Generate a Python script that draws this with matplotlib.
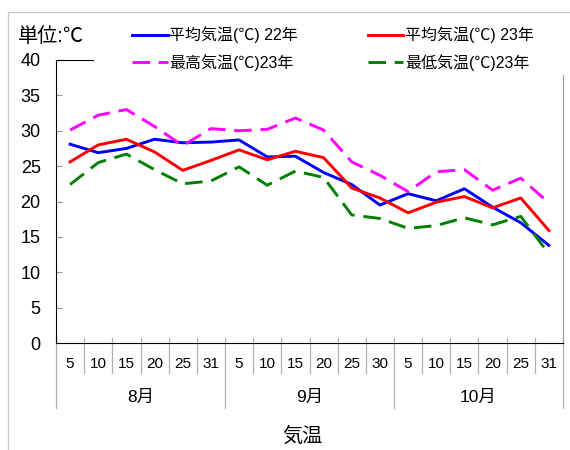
import matplotlib
matplotlib.use("Agg")
import matplotlib.pyplot as plt
from matplotlib.patches import Rectangle

plt.rcParams['font.family'] = ['Liberation Sans', 'Noto Sans CJK JP', 'DejaVu Sans']

# data
days = ['5', '10', '15', '20', '25', '31',
        '5', '10', '15', '20', '25', '30',
        '5', '10', '15', '20', '25', '31']
months = ['8月', '9月', '10月']
avg22 = [28.1, 26.9, 27.5, 28.8, 28.3, 28.4, 28.7, 26.3, 26.4, 24.1, 22.4, 19.5,
         21.1, 20.1, 21.8, 19.2, 17.0, 13.8]
avg23 = [25.6, 28.0, 28.8, 27.0, 24.4, 25.8, 27.3, 25.9, 27.1, 26.2, 21.9, 20.5,
         18.4, 19.9, 20.7, 19.1, 20.5, 15.9]
max23 = [30.1, 32.2, 33.0, 30.6, 27.9, 30.3, 30.0, 30.2, 31.8, 30.1, 25.6, 23.7,
         21.4, 24.2, 24.5, 21.6, 23.3, 19.8]
min23 = [22.4, 25.5, 26.7, 24.5, 22.5, 22.9, 24.9, 22.3, 24.3, 23.4, 18.1, 17.6,
         16.2, 16.6, 17.7, 16.7, 17.9, 12.6]

x = list(range(len(days)))

fig = plt.figure(figsize=(5.7, 4.5), dpi=100)
ax = fig.add_axes([56 / 570, 1 - 343 / 450, 507 / 570, 283 / 450])

# outer frame (cut off on the right and bottom)
fig.patches.append(Rectangle((8 / 570, -0.1), 1.0, 1.1 - 12 / 450,
                             transform=fig.transFigure, fill=False,
                             edgecolor='#c8c8c8', linewidth=1))

l1, = ax.plot(x, avg22, color='#0000ff', lw=2.1, label='平均気温(℃) 22年')
l2, = ax.plot(x, avg23, color='#ff0000', lw=2.1, label='平均気温(℃) 23年')
l3, = ax.plot(x, max23, color='#ff00ff', lw=2.1, dashes=(6, 3), label='最高気温(℃)23年')
l4, = ax.plot(x, min23, color='#008000', lw=2.1, dashes=(6, 3), label='最低気温(℃)23年')

ax.set_xlim(-0.5, len(days) - 0.5)
ax.set_ylim(0, 40)
ax.set_yticks(range(0, 41, 5))
ax.tick_params(axis='y', direction='in', length=4.5, color='#999999',
               labelsize=13, pad=11)
ax.set_xticks(x)
ax.set_xticklabels(days)
ax.tick_params(axis='x', length=0, labelsize=11, pad=10)

# spines: top partly hidden behind legend, right grey
ax.spines['top'].set_bounds(-0.5, 0.8)
ax.spines['right'].set_bounds(0, 37.9)
ax.spines['right'].set_color('#999999')

# category separators under the axis
tr = ax.get_xaxis_transform()
for i in range(len(days) + 1):
    b = i - 0.5
    bottom = -0.23 if i % 6 == 0 else -0.106
    ax.plot([b, b], [0.018, bottom], color='#b0b0b0', lw=0.9,
            transform=tr, clip_on=False)

for k, m in enumerate(months):
    ax.text(k * 6 + 2.5, -0.191, m, transform=tr, ha='center', va='center',
            fontsize=12.5)

ax.text(0.485, -0.33, '気温', transform=ax.transAxes, ha='center', va='center',
        fontsize=14.5)
fig.text(18 / 570, 1 - 36 / 450, '単位:℃', ha='left', va='center', fontsize=14.5)

fig.legend(handles=[l1, l3, l2, l4], ncol=2, loc='upper left',
           bbox_to_anchor=(126 / 570, 1 - 20 / 450), frameon=False,
           fontsize=11.5, handlelength=2.2, handletextpad=0.1,
           columnspacing=4.4, labelspacing=0.7, borderaxespad=0)

fig.savefig('out.png', dpi=100)
